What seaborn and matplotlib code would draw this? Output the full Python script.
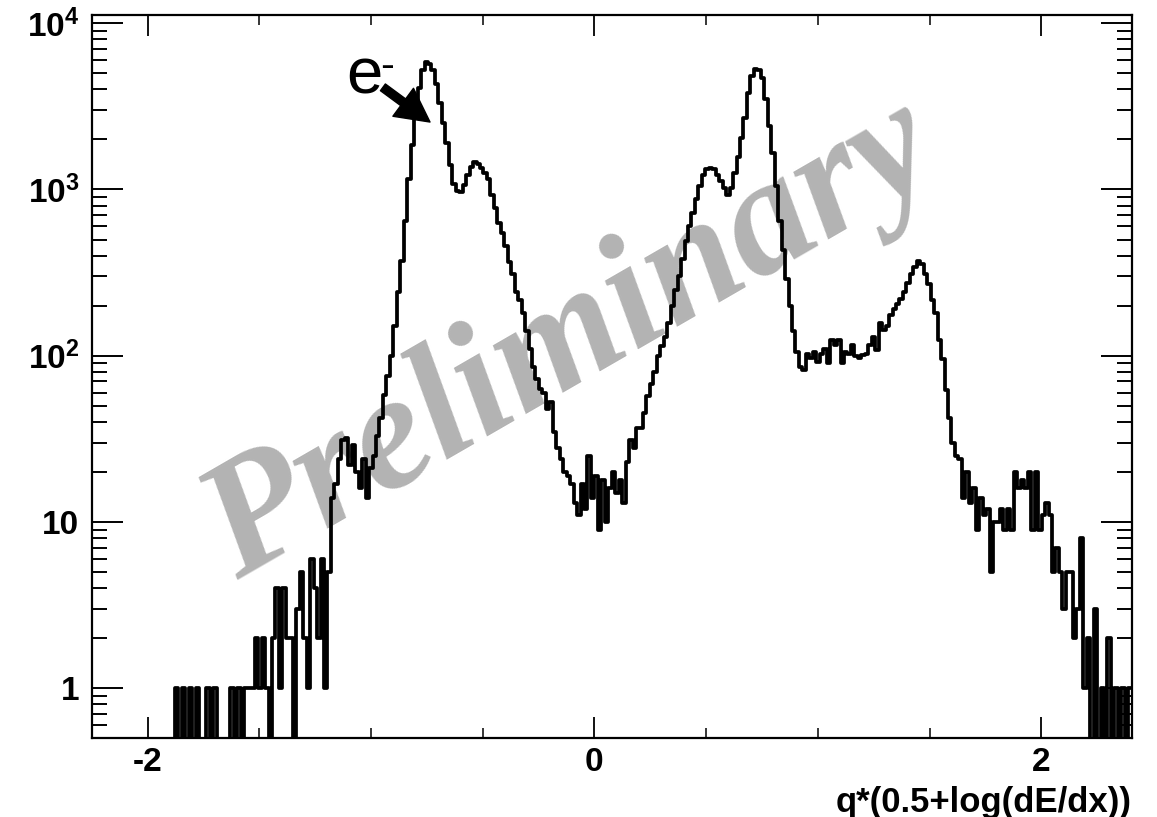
import numpy as np
import pandas as pd
import matplotlib
matplotlib.use("Agg")
import matplotlib.pyplot as plt
import seaborn as sns
from matplotlib.ticker import (FixedLocator, FixedFormatter, NullFormatter,
                               MultipleLocator, LogLocator)

# ---------------- data (histogram) ----------------
X_MIN, X_MAX, N_BINS = -2.25, 2.405, 300

counts = [
    0, 0, 0, 0, 0, 0, 0, 0, 0, 0,
    0, 0, 0, 0, 0, 0, 0, 0, 0, 0,
    0, 0, 0, 0, 1, 0, 1, 0, 1, 0,
    1, 0, 0, 1, 0, 1, 0, 0, 0, 0,
    1, 0, 1, 0, 1, 1, 1, 2, 1, 2,
    1, 0, 2, 4, 1, 4, 2, 2, 0, 3,
    5, 2, 1, 6, 4, 2, 6, 1, 5, 14,
    17, 24, 31, 32, 22, 29, 20, 16, 24, 14,
    21, 25, 33, 42, 58, 75, 100, 150, 240, 370,
    650, 1150, 1850, 2800, 4100, 5200, 5850, 5700, 5200, 4300,
    3300, 2500, 1900, 1400, 1080, 980, 970, 1060, 1230, 1370,
    1460, 1430, 1340, 1250, 1150, 930, 770, 630, 545, 460,
    365, 310, 240, 215, 180, 140, 110, 85, 72, 63,
    60, 48, 53, 35, 28, 24, 20, 19, 17, 13,
    11, 17, 12, 25, 14, 19, 9, 18, 10, 16,
    20, 15, 18, 13, 23, 31, 28, 37, 37, 45,
    57, 68, 80, 100, 115, 130, 157, 200, 250, 300,
    380, 490, 600, 720, 880, 1050, 1230, 1320, 1350, 1320,
    1230, 1120, 1020, 930, 1020, 1250, 1570, 2050, 2700, 3800,
    4800, 5300, 5200, 4700, 3500, 2400, 1650, 1050, 650, 430,
    290, 200, 140, 105, 85, 82, 103, 97, 105, 92,
    103, 110, 90, 124, 116, 124, 90, 105, 103, 116,
    100, 97, 101, 103, 116, 130, 108, 157, 142, 150,
    175, 190, 205, 220, 240, 275, 310, 340, 370, 355,
    310, 270, 215, 180, 125, 95, 62, 42, 30, 25,
    24, 14, 20, 13, 16, 9, 14, 11, 12, 5,
    10, 10, 12, 9, 12, 9, 20, 16, 18, 16,
    20, 9, 20, 9, 11, 13, 11, 5, 7, 5,
    3, 5, 5, 2, 3, 8, 1, 2, 0, 3,
    0, 1, 0, 2, 0, 1, 0, 1, 0, 1,
]

y_ticks = [1, 10, 100, 1000, 10000]
y_tick_labels = ["1", "10", r"$10^{2}$", r"$10^{3}$", r"$10^{4}$"]
x_ticks = [-2, 0, 2]
x_tick_labels = ["-2", "0", "2"]
x_label = "q*(0.5+log(dE/dx))"
watermark = "Preliminary"
annot_text = "e"
annot_sup = "-"

# ---------------- style ----------------
sns.set_style("ticks")
plt.rcParams["font.family"] = ["Liberation Sans", "DejaVu Sans"]
plt.rcParams["font.weight"] = "bold"
plt.rcParams["mathtext.fontset"] = "custom"
plt.rcParams["mathtext.rm"] = "Liberation Sans:bold"
plt.rcParams["mathtext.bf"] = "Liberation Sans:bold"
plt.rcParams["mathtext.it"] = "Liberation Sans:bold"
for k in ["text.color", "axes.labelcolor", "xtick.color", "ytick.color",
          "xtick.labelcolor", "ytick.labelcolor", "axes.edgecolor"]:
    plt.rcParams[k] = "black"

fig = plt.figure(figsize=(11.57, 8.17), dpi=100)
ax = fig.add_axes([0.07926, 0.09633, 0.89888, 0.88531])

edges = np.linspace(X_MIN, X_MAX, N_BINS + 1)
centers = 0.5 * (edges[:-1] + edges[1:])
df = pd.DataFrame({"x": centers, "w": counts})

sns.histplot(data=df, x="x", weights="w", bins=[float(e) for e in edges],
             element="step", fill=False, color="black", linewidth=2.7,
             ax=ax, zorder=3)

ax.set_yscale("log")
ax.set_xlim(X_MIN, X_MAX)
ax.set_ylim(0.5, 11200)

ax.yaxis.set_major_locator(FixedLocator(y_ticks))
ax.yaxis.set_major_formatter(FixedFormatter(y_tick_labels))
ax.yaxis.set_minor_locator(LogLocator(base=10, subs=np.arange(2, 10), numticks=30))
ax.yaxis.set_minor_formatter(NullFormatter())
ax.xaxis.set_major_locator(FixedLocator(x_ticks))
ax.xaxis.set_major_formatter(FixedFormatter(x_tick_labels))
ax.xaxis.set_minor_locator(MultipleLocator(0.5))

ax.tick_params(axis="y", which="major", direction="in", length=22, width=1.4,
               left=True, right=True, labelsize=24, pad=9, color="black",
               labelcolor="black")
ax.tick_params(axis="y", which="minor", direction="in", length=11, width=1.4,
               left=True, right=True, color="black")
ax.tick_params(axis="x", which="major", direction="in", length=15, width=1.3,
               top=True, bottom=True, labelsize=24, pad=6, color="black",
               labelcolor="black")
ax.tick_params(axis="x", which="minor", direction="in", length=7.5, width=1.1,
               top=True, bottom=True, color="black")

for s in ax.spines.values():
    s.set_visible(True)
    s.set_linewidth(1.6)
    s.set_color("black")

ax.set_ylabel("")
ax.set_xlabel(x_label, fontsize=25, fontweight="bold", loc="right", color="black")
ax.xaxis.set_label_coords(1.0, -0.066)

# watermark
ax.text(0.4615, 0.548, watermark, transform=ax.transAxes, rotation=30,
        rotation_mode="anchor", ha="center", va="center", fontsize=119,
        family="Liberation Serif", style="italic", weight="bold",
        color="#b3b3b3", zorder=1)

# e- annotation with arrow
ax.text(0.2445, 0.892, annot_text, transform=ax.transAxes, ha="left",
        va="baseline", fontsize=47, fontweight="normal", color="black", zorder=4)
ax.text(0.2775, 0.913, annot_sup, transform=ax.transAxes, ha="left",
        va="baseline", fontsize=30, fontweight="normal", color="black", zorder=4)
ax.annotate("", xy=(0.3253, 0.852), xycoords="axes fraction",
            xytext=(0.280, 0.900), textcoords="axes fraction",
            arrowprops=dict(arrowstyle="simple,head_length=1.2,head_width=1.25,tail_width=0.3",
                            mutation_scale=20, color="black",
                            shrinkA=0, shrinkB=0), zorder=4)

fig.savefig("out.png", dpi=100, facecolor="white")
